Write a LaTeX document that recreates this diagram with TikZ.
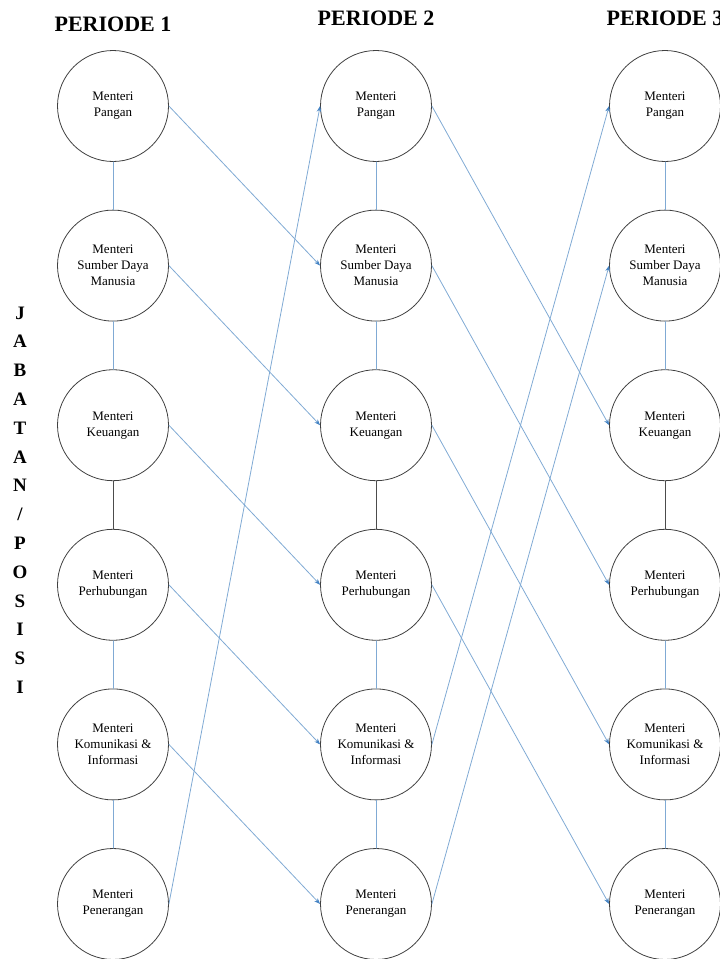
\documentclass[tikz,border=0pt]{standalone}
\usepackage{fontspec}
\setmainfont{Liberation Serif}
\usetikzlibrary{arrows.meta}
\definecolor{lineblue}{RGB}{128,170,212}
\definecolor{tipblue}{RGB}{70,132,196}
\begin{document}
\begin{tikzpicture}[x=1pt,y=-1pt,>={Stealth[length=6pt,width=4.5pt,color=tipblue]},line join=round,line cap=round,
	jab/.style={circle,draw=black!75,line width=0.8pt,minimum size=111pt,inner sep=0pt,align=center,font=\fontsize{13}{16}\selectfont},
	pnh/.style={draw=lineblue,line width=0.8pt},
	hd/.style={font=\fontsize{22}{26}\selectfont\bfseries}]
	\useasboundingbox (0,0) rectangle (720,959);
	\foreach \c/\x in {1/113,2/376,3/665}
		\foreach \r/\t in {1/{Menteri\\Pangan},2/{Menteri\\Sumber Daya\\Manusia},3/{Menteri\\Keuangan},4/{Menteri\\Perhubungan},5/{Menteri\\Komunikasi \&\\Informasi},6/{Menteri\\Penerangan}}
			\node[jab] (m\c\r) at (\x,{106+(\r-1)*159.6}) {\t};
	\node[hd] (per1) at (113,24) {PERIODE 1};
	\node[hd] (per2) at (376,18) {PERIODE 2};
	\node[hd] (per3) at (665,18) {PERIODE 3};
	\node[align=center,font=\fontsize{19}{28.8}\selectfont\bfseries] (jbt) at (20,500) {J\\A\\B\\A\\T\\A\\N\\/\\P\\O\\S\\I\\S\\I};
	\foreach \c in {1,2,3}{
		\draw[pnh] (m\c1)--(m\c2) (m\c2)--(m\c3) (m\c4)--(m\c5) (m\c5)--(m\c6);
		\draw[black!70,line width=0.8pt] (m\c3)--(m\c4);
	}
	\foreach \a/\b in {1/2,2/3,3/4,4/5,5/6,6/1}
		\draw[pnh,->] (m1\a.east)--(m2\b.west);
	\foreach \a/\b in {1/3,2/4,3/5,4/6,5/1,6/2}
		\draw[pnh,->] (m2\a.east)--(m3\b.west);
\end{tikzpicture}
\end{document}
